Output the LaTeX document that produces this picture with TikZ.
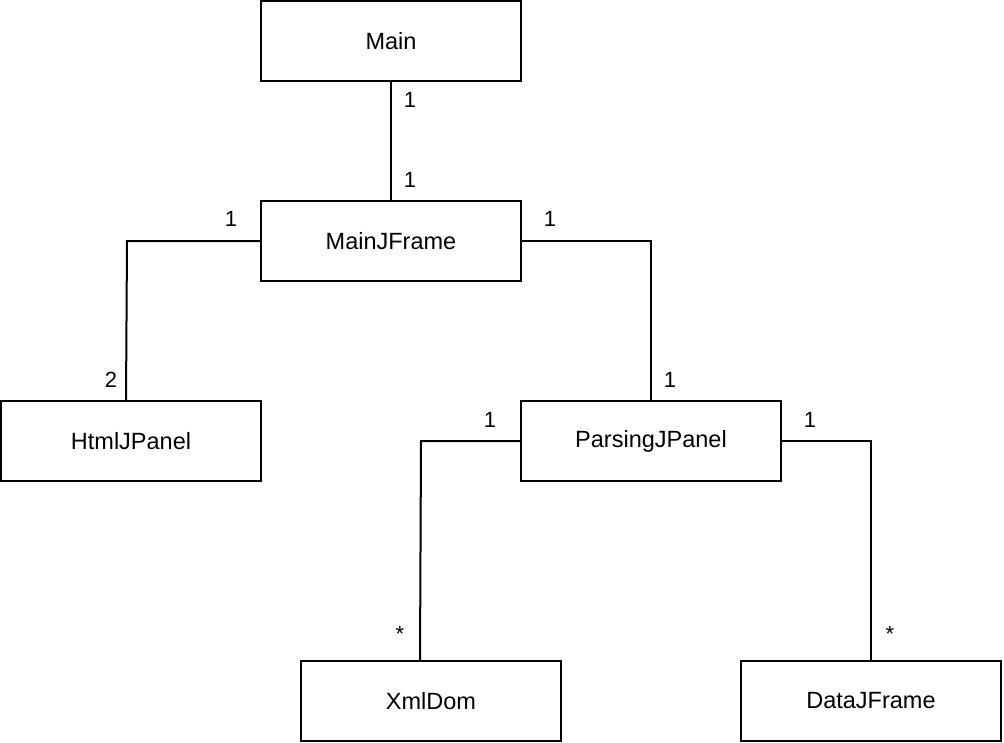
\documentclass[tikz,border=0pt]{standalone}
\usepackage{fontspec}
\setmainfont{Liberation Sans}
\begin{document}
\begin{tikzpicture}[x=1pt,y=-1pt,
  cls/.style={draw,line width=2pt,minimum width=260pt,minimum height=80pt,inner sep=0pt,font=\fontsize{23.5}{27}\selectfont},
  conn/.style={line width=2pt},
  mult/.style={font=\fontsize{22}{26}\selectfont,inner sep=0pt}]
\useasboundingbox (0,0) rectangle (1004,742);
\node[cls] (main) at (391,41) {Main};
\node[cls] (mjf) at (391,241) {MainJFrame};
\node[cls] (html) at (131,441) {HtmlJPanel};
\node[cls] (pars) at (651,441) {ParsingJPanel};
\node[cls] (xml) at (431,701) {XmlDom};
\node[cls] (data) at (871,701) {DataJFrame};
\coordinate (c1) at (127,241);
\coordinate (c1b) at (126,401);
\coordinate (c2) at (651,241);
\coordinate (c3) at (421,441);
\coordinate (c3b) at (420,661);
\coordinate (c4) at (871,441);
\draw[conn] (main.south) -- (mjf.north);
\draw[conn] (mjf.west) -- (c1) -- (c1b);
\draw[conn] (mjf.east) -- (c2) -- (pars.north);
\draw[conn] (pars.west) -- (c3) -- (c3b);
\draw[conn] (pars.east) -- (c4) -- (data.north);
\node[mult] (m1) at (410,100) {1};
\node[mult] (m2) at (410,180) {1};
\node[mult] (m3) at (231,219) {1};
\node[mult] (m4) at (111,380) {2};
\node[mult] (m5) at (550,219) {1};
\node[mult] (m6) at (670,380) {1};
\node[mult] (m7) at (490,420) {1};
\node[mult] (m8) at (400,634) {*};
\node[mult] (m9) at (810,420) {1};
\node[mult] (m10) at (890,634) {*};
\end{tikzpicture}
\end{document}
